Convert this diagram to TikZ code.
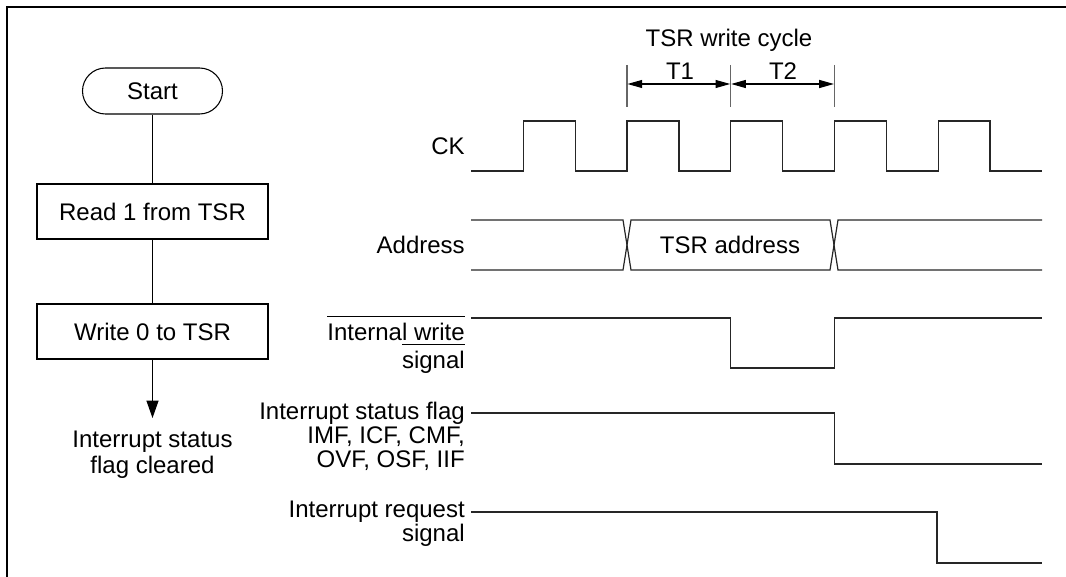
\documentclass[tikz,border=0pt]{standalone}
\usepackage{fontspec}
\setmainfont{Liberation Sans}
\usetikzlibrary{arrows.meta}
\newcommand\ovl[1]{\leavevmode\vbox{\hrule height 0.75pt\kern 4.5pt\hbox{#1}}}
\begin{document}
\begin{tikzpicture}[x=0.75pt,y=-0.75pt,
  every node/.style={font=\fontsize{18}{18}\selectfont, inner sep=0pt},
  sig/.style={line width=0.9pt, black!85},
  fbox/.style={draw, line width=0.8pt, minimum width=173.25pt, minimum height=41.25pt},
  term/.style={draw, line width=0.8pt, rounded corners=17.25pt, minimum width=105pt, minimum height=34.5pt},
  lbl/.style={anchor=east, align=right},
  tickline/.style={line width=0.9pt, black!60},
  dim/.style={line width=0.8pt, {Triangle[length=11pt,width=6pt]}-{Triangle[length=11pt,width=6pt]}},
  flow/.style={line width=0.8pt},
]
\useasboundingbox (0,0) rectangle (1066,577);
\draw[line width=1.6pt] (7,577) -- (7,7) -- (1066,7);

% flowchart
\node[term] (start) at (152.5,91) {Start};
\node[fbox] (read) at (152.5,211.5) {Read 1 from TSR};
\node[fbox] (write) at (152.5,331.5) {Write 0 to TSR};
\coordinate (tip) at (152.5,418);
\node[align=center, font=\fontsize{18}{19.5}\selectfont] (cleared) at (152.5,455) {Interrupt status\\flag cleared};
\draw[flow] (start) -- (read);
\draw[flow] (read) -- (write);
\draw[flow,-{Triangle[length=13pt,width=9pt]}] (write) -- (tip);

% cycle annotation
\node[anchor=base] (cycle) at (729,47) {TSR write cycle};
\coordinate (k0t) at (627,65);   \coordinate (k0b) at (627,107);
\coordinate (k1t) at (730.7,65); \coordinate (k1b) at (730.7,107);
\coordinate (k2t) at (834.4,65); \coordinate (k2b) at (834.4,107);
\draw[tickline] (k0t) -- (k0b);
\draw[tickline] (k1t) -- (k1b);
\draw[tickline] (k2t) -- (k2b);
\coordinate (a0) at (627.5,84);
\coordinate (a1) at (730.2,84);
\coordinate (a2) at (731.2,84);
\coordinate (a3) at (833.9,84);
\draw[dim] (a0) -- (a1);
\draw[dim] (a2) -- (a3);
\node[anchor=base] (t1) at (680,80) {T1};
\node[anchor=base] (t2) at (783,80) {T2};

% labels
\node[anchor=base east] (ck) at (465,155) {CK};
\node[anchor=base east] (addr) at (465,253.5) {Address};
\node[lbl, font=\fontsize{18}{21}\selectfont] (iw) at (465,344.5) {\ovl{Internal write}\\\ovl{signal}};
\node[lbl] (isf) at (465,436) {Interrupt status flag\\IMF, ICF, CMF,\\OVF, OSF, IIF};
\node[lbl] (irq) at (465,524) {Interrupt request\\signal};

% CK
\draw[sig] (471,171) -- (523.3,171) -- (523.3,121) -- (575.2,121) -- (575.2,171)
  -- (627,171) -- (627,121) -- (678.9,121) -- (678.9,171)
  -- (730.7,171) -- (730.7,121) -- (782.6,121) -- (782.6,171)
  -- (834.4,171) -- (834.4,121) -- (886.3,121) -- (886.3,171)
  -- (938.1,171) -- (938.1,121) -- (990,121) -- (990,171) -- (1042,171);

% Address
\draw[sig] (471,220) -- (623,220) -- (631,270) -- (830,270) -- (838,220) -- (1042,220);
\draw[sig] (471,270) -- (623,270) -- (631,220) -- (830,220) -- (838,270) -- (1042,270);
\node[anchor=base] (tsra) at (730,253) {TSR address};

% Internal write
\draw[sig] (471,318) -- (730.7,318) -- (730.7,368) -- (834.4,368) -- (834.4,318) -- (1042,318);
% Interrupt status flag
\draw[sig] (471,413) -- (834.4,413) -- (834.4,464) -- (1042,464);
% Interrupt request
\draw[sig] (471,512) -- (937,512) -- (937,563) -- (1042,563);
\end{tikzpicture}
\end{document}
